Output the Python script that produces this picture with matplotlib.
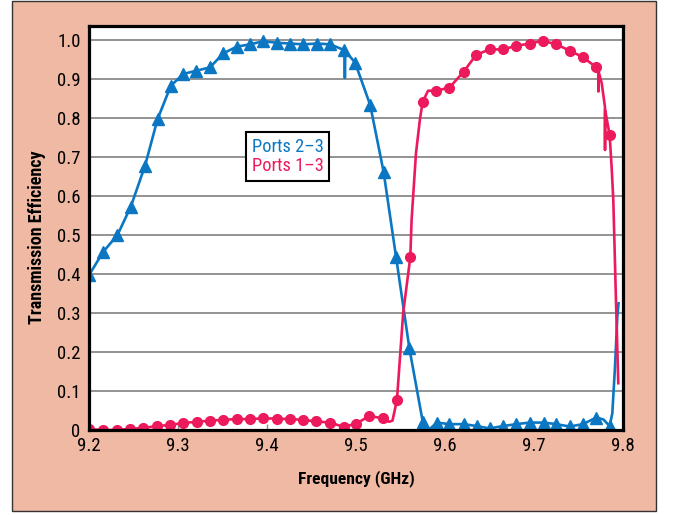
import matplotlib
matplotlib.use("Agg")
import matplotlib.pyplot as plt
from matplotlib import font_manager
from matplotlib.patches import Rectangle

# prefer a narrow sans face when one is installed
_installed = {f.name for f in font_manager.fontManager.ttflist}
_narrow = [n for n in ["Roboto Condensed", "Liberation Sans Narrow", "Open Sans Condensed",
                       "Noto Sans Display", "DejaVu Sans"] if n in _installed]
plt.rcParams['font.family'] = _narrow + ['DejaVu Sans']
plt.rcParams['font.stretch'] = 'condensed'

# ---- data -------------------------------------------------------------
freq_ticks = [9.2, 9.3, 9.4, 9.5, 9.6, 9.7, 9.8]
freq_tick_labels = ["9.2", "9.3", "9.4", "9.5", "9.6", "9.7", "9.8"]
eff_ticks = [0, 0.1, 0.2, 0.3, 0.4, 0.5, 0.6, 0.7, 0.8, 0.9, 1.0]
eff_tick_labels = ["0", "0.1", "0.2", "0.3", "0.4", "0.5", "0.6", "0.7", "0.8", "0.9", "1.0"]

# Ports 2-3: measured points (triangles)
p23_freq = [9.200, 9.216, 9.232, 9.247, 9.263, 9.277, 9.292, 9.306, 9.320, 9.336,
            9.351, 9.366, 9.381, 9.396, 9.411, 9.426, 9.441, 9.456, 9.471, 9.487,
            9.499, 9.516, 9.531, 9.545, 9.560, 9.575, 9.591, 9.605, 9.621, 9.636,
            9.650, 9.665, 9.680, 9.695, 9.711, 9.725, 9.740, 9.755, 9.770, 9.785]
p23_eff = [0.397, 0.457, 0.500, 0.573, 0.678, 0.797, 0.883, 0.913, 0.921, 0.930,
           0.966, 0.983, 0.989, 0.997, 0.993, 0.991, 0.989, 0.991, 0.989, 0.974,
           0.942, 0.833, 0.662, 0.444, 0.209, 0.021, 0.019, 0.015, 0.015, 0.010,
           0.004, 0.010, 0.015, 0.019, 0.019, 0.015, 0.009, 0.015, 0.032, 0.010]
# Ports 2-3: additional trace samples between the marked points
p23_trace_freq = [9.4875, 9.488, 9.579, 9.583, 9.778, 9.788, 9.791, 9.7936, 9.795]
p23_trace_eff = [0.903, 0.972, 0.004, 0.003, 0.027, 0.043, 0.162, 0.290, 0.325]

# Ports 1-3: measured points (circles)
p13_freq = [9.200, 9.216, 9.232, 9.246, 9.261, 9.276, 9.291, 9.306, 9.321, 9.336,
            9.351, 9.366, 9.381, 9.396, 9.411, 9.426, 9.441, 9.455, 9.471, 9.486,
            9.500, 9.515, 9.530, 9.546, 9.561, 9.575, 9.590, 9.605, 9.621, 9.635,
            9.650, 9.665, 9.680, 9.695, 9.710, 9.725, 9.740, 9.755, 9.770, 9.785]
p13_eff = [0.002, 0.000, 0.000, 0.003, 0.005, 0.010, 0.013, 0.018, 0.021, 0.024,
           0.026, 0.028, 0.028, 0.030, 0.029, 0.028, 0.026, 0.022, 0.019, 0.008,
           0.016, 0.036, 0.030, 0.077, 0.443, 0.842, 0.870, 0.878, 0.919, 0.962,
           0.976, 0.976, 0.985, 0.991, 0.998, 0.989, 0.973, 0.956, 0.930, 0.756]
# Ports 1-3: additional trace samples between the marked points
p13_trace_freq = [9.537, 9.541, 9.553, 9.5625, 9.5674, 9.572, 9.581,
                  9.7722, 9.7723, 9.7725, 9.7761, 9.7797, 9.7798, 9.7800,
                  9.7873, 9.7891, 9.7921, 9.7947]
p13_trace_eff = [0.021, 0.024, 0.300, 0.540, 0.710, 0.800, 0.870,
                 0.925, 0.868, 0.920, 0.889, 0.829, 0.718, 0.820,
                 0.671, 0.590, 0.333, 0.120]

BLUE = "#0B77C3"
PINK = "#EC1A5C"
SALMON = "#EFB9A3"


def merged(f_a, v_a, f_b, v_b):
    pts = sorted(zip(list(f_a) + list(f_b), list(v_a) + list(v_b)))
    return [p[0] for p in pts], [p[1] for p in pts]


W, H = 675, 515
fig = plt.figure(figsize=(W / 100, H / 100), dpi=100, facecolor="white")

# salmon panel behind the chart
fig.patches.append(Rectangle((12 / W, 1 - 511 / H), 644 / W, 510 / H,
                             transform=fig.transFigure, facecolor=SALMON,
                             edgecolor="#333333", linewidth=1.0, zorder=-5))

ax = fig.add_axes([89 / W, 1 - 430 / H, (623 - 89) / W, (430 - 26) / H])
ax.set_zorder(2)
ax.set_facecolor("white")

lf, lv = merged(p23_freq, p23_eff, p23_trace_freq, p23_trace_eff)
ax.plot(lf, lv, color=BLUE, lw=1.9, zorder=3)
ax.plot(p23_freq, p23_eff, ls="none", marker="^", ms=9, color=BLUE, zorder=4)

lf, lv = merged(p13_freq, p13_eff, p13_trace_freq, p13_trace_eff)
ax.plot(lf, lv, color=PINK, lw=1.9, zorder=3)
ax.plot(p13_freq, p13_eff, ls="none", marker="o", ms=7, color=PINK, zorder=4)

ax.set_xlim(9.2, 9.8)
ax.set_ylim(0, 1.036)
ax.set_xticks(freq_ticks)
ax.set_xticklabels(freq_tick_labels)
ax.set_yticks(eff_ticks)
ax.set_yticklabels(eff_tick_labels)
ax.tick_params(axis="x", direction="in", length=4, width=1, color="#8a8a8a",
               pad=5, labelsize=13.5)
ax.tick_params(axis="y", length=0, pad=6, labelsize=13.5)
ax.yaxis.grid(True, color="#8a8a8a", lw=1.3)
ax.set_axisbelow(True)
for s in ax.spines.values():
    s.set_linewidth(2.3)
    s.set_color("black")
    s.set_zorder(6)

fig.text(356 / W, 1 - 479 / H, "Frequency (GHz)", ha="center", va="center",
         fontsize=12.6, fontweight="bold", zorder=3)
fig.text(37 / W, 1 - 237 / H, "Transmission Efficiency", ha="center", va="center",
         rotation=90, fontsize=13, fontweight="bold", zorder=3)

# legend: coloured labels only
h1, = ax.plot([], [], color=BLUE)
h2, = ax.plot([], [], color=PINK)
leg = ax.legend([h1, h2], ["Ports 2\u20133", "Ports 1\u20133"],
                loc="upper left", bbox_to_anchor=(246 / W, 1 - 132 / H),
                bbox_transform=fig.transFigure, handlelength=0, handletextpad=0,
                labelcolor=[BLUE, PINK], fontsize=13.2, fancybox=False,
                framealpha=1, edgecolor="black", borderpad=0.3,
                labelspacing=0.1, borderaxespad=0)
for h in leg.legend_handles:
    h.set_visible(False)
leg.get_frame().set_linewidth(1.5)
leg.set_zorder(7)

fig.savefig("out.png", dpi=100, facecolor="white")
